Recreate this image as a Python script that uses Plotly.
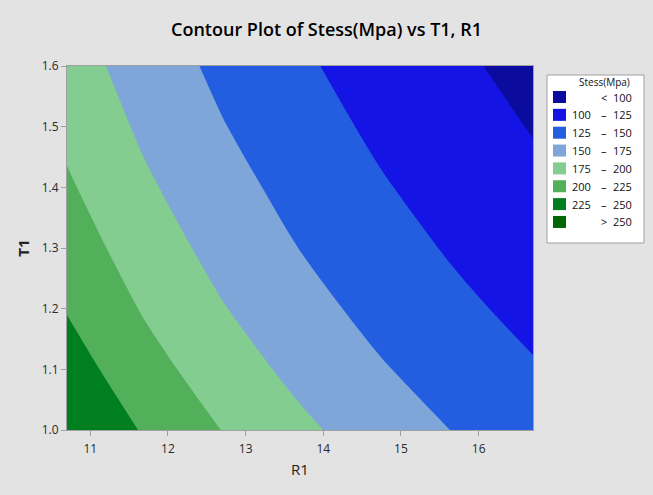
import plotly.graph_objects as go

# ---- data ----
r1 = [10.7, 11.7, 12.7, 13.7, 14.7, 15.7, 16.7]
t1 = [1.0, 1.1, 1.2, 1.3, 1.4, 1.5, 1.6]
stress = [
    [249.5, 222.7, 199.5, 180.0, 163.3, 149.0, 136.6],
    [236.3, 209.3, 187.1, 168.4, 152.5, 138.9, 127.0],
    [223.7, 197.8, 176.3, 158.4, 143.1, 130.0, 118.6],
    [212.8, 187.6, 166.9, 149.6, 134.9, 122.2, 111.3],
    [203.1, 178.7, 158.6, 141.8, 127.5, 115.3, 104.8],
    [194.4, 170.7, 151.1, 134.8, 121.0, 109.2, 98.9],
    [186.7, 163.4, 144.4, 128.5, 115.1, 103.6, 93.7],
]
level_start, level_end, level_step = 100, 250, 25
band_labels = ["<  100", "100  –  125", "125  –  150", "150  –  175",
               "175  –  200", "200  –  225", "225  –  250", ">  250"]
band_colors = ["#0B0C9E", "#1414E4", "#235EE0", "#7EA6D9",
               "#82CD8F", "#52AF5A", "#007F20", "#006600"]
x_ticks = [11, 12, 13, 14, 15, 16]
y_ticks = [1.0, 1.1, 1.2, 1.3, 1.4, 1.5, 1.6]

FONT = "Open Sans"
W, H = 653, 495
ML, MR, MT, MB = 67, 120, 66, 65
PW, PH = W - ML - MR, H - MT - MB

def px_x(px):  # pixel -> paper x
    return (px - ML) / PW

def px_y(py):  # pixel -> paper y
    return (H - MB - py) / PH

n = len(band_colors)
colorscale = [[i / (n - 1), c] for i, c in enumerate(band_colors)]

fig = go.Figure()
fig.add_trace(go.Contour(
    x=r1, y=t1, z=stress,
    autocontour=False,
    contours=dict(start=level_start, end=level_end, size=level_step,
                  coloring="fill", showlines=False),
    line=dict(width=0, smoothing=1.0),
    colorscale=colorscale,
    showscale=False,
    hoverinfo="skip",
))

# ---- manual legend (Minitab style) ----
shapes = []
annotations = []
LEG_L, LEG_R, LEG_T, LEG_B = 547, 644, 75, 243
shapes.append(dict(type="rect", xref="paper", yref="paper",
                   x0=px_x(LEG_L), x1=px_x(LEG_R), y0=px_y(LEG_B), y1=px_y(LEG_T),
                   fillcolor="#FFFFFF", line=dict(color="#A0A0A0", width=1), layer="above"))
annotations.append(dict(text="Stess(Mpa)", xref="paper", yref="paper",
                        x=px_x(632), y=px_y(82), xanchor="right", yanchor="middle",
                        showarrow=False, font=dict(family=FONT, size=10, color="#111111")))
ROW0, ROWSTEP = 97, 17.85
for i, (lab, col) in enumerate(zip(band_labels, band_colors)):
    cy = ROW0 + i * ROWSTEP
    shapes.append(dict(type="rect", xref="paper", yref="paper",
                       x0=px_x(553), x1=px_x(566), y0=px_y(cy + 6), y1=px_y(cy - 6),
                       fillcolor=col, line=dict(width=0), layer="above"))
    parts = lab.split()
    ann_font = dict(family=FONT, size=11, color="#111111")
    if len(parts) == 3:
        annotations.append(dict(text=parts[0], xref="paper", yref="paper", x=px_x(593), y=px_y(cy),
                                xanchor="right", yanchor="middle", showarrow=False, font=ann_font))
    annotations.append(dict(text=parts[-2], xref="paper", yref="paper", x=px_x(604), y=px_y(cy),
                            xanchor="center", yanchor="middle", showarrow=False, font=ann_font))
    annotations.append(dict(text=parts[-1], xref="paper", yref="paper", x=px_x(634), y=px_y(cy),
                            xanchor="right", yanchor="middle", showarrow=False, font=ann_font))

axis_common = dict(
    showgrid=False, zeroline=False, showline=True, linecolor="#A0A0A0",
    linewidth=1, mirror=True, ticks="outside", ticklen=5, tickcolor="#A0A0A0",
    tickfont=dict(family=FONT, size=12, color="#2A2A2A"),
)

fig.update_layout(
    width=W, height=H,
    margin=dict(l=ML, r=MR, t=MT, b=MB),
    paper_bgcolor="#E3E3E3",
    plot_bgcolor="#E3E3E3",
    showlegend=False,
    title=dict(text="Contour Plot of Stess(Mpa) vs T1, R1",
               font=dict(family=FONT, size=18, color="#000000", weight=600),
               x=0.5, xanchor="center", xref="container",
               y=1 - 30 / H, yanchor="middle", yref="container"),
    xaxis=dict(range=[10.7, 16.7], tickvals=x_ticks, ticklabelstandoff=3,
               title=dict(text="R1", font=dict(family=FONT, size=15, color="#222222"), standoff=8),
               **axis_common),
    yaxis=dict(range=[1.0, 1.6], tickvals=y_ticks, tickformat=".1f",
               title=dict(text="<b>T1</b>", font=dict(family=FONT, size=15, color="#222222"), standoff=8),
               **axis_common),
    shapes=shapes,
    annotations=annotations,
)

fig.write_html("out.html")
